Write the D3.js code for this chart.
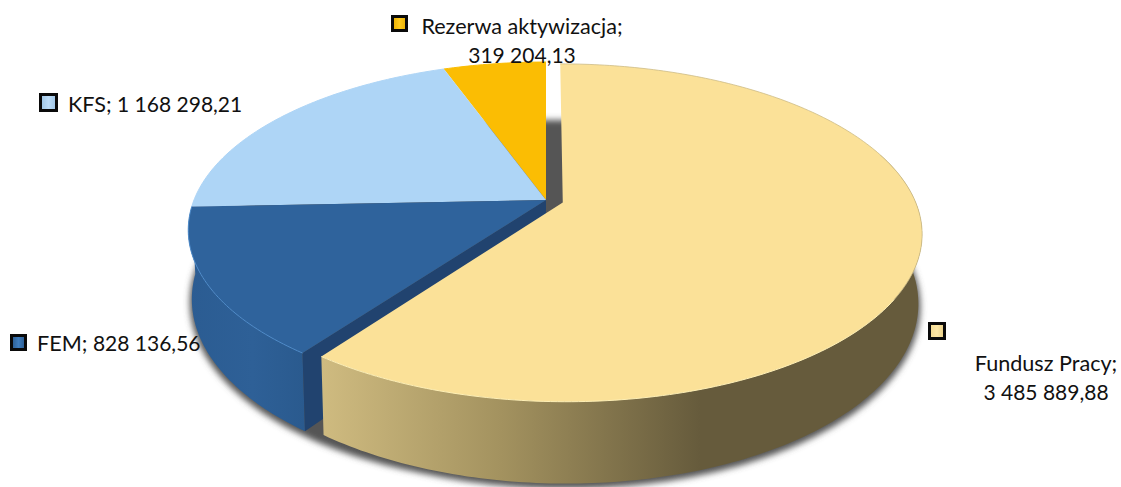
<!DOCTYPE html>
<html>
<head>
<meta charset="utf-8">
<script src="https://cdn.jsdelivr.net/npm/d3@7"></script>
<style>
  html, body { margin: 0; padding: 0; background: #fff; }
  text { font-family: Lato, "Open Sans", sans-serif; fill: #111; -webkit-text-stroke: 0.15px #111; }
  .name { font-size: 21.6px; }
  .value { font-size: 21px; }
</style>
</head>
<body>
<svg id="chart" width="1121" height="487"></svg>
<script>
const categories = ['Fundusz Pracy', 'FEM', 'KFS', 'Rezerwa aktywizacja'];
const values = [3485889.88, 828136.56, 1168298.21, 319204.13];
const exploded = [0.05, 0, 0, 0];
const topColors = ['#fbe198', '#2f639c', '#aed5f6', '#fbbd03'];
const rimColors = ['#fff0b5', '#4f8ccb', '#aed5f6', '#fbbd03'];

const svg = d3.select('#chart');
const defs = svg.append('defs');

// perspective disc: numbers
const cx = 546, cy = 200, R = 352, A = 162.6, K = 0.1786, D = 67;

const fmt = d3.formatLocale({ decimal: ',', thousands: ' ', grouping: [3], currency: ['', ''] }).format(',.2f');

const slices = d3.pie().sort(null).startAngle(0).endAngle(2 * Math.PI)(values);
const wholeDisc = { index: 1, startAngle: 0, endAngle: 2 * Math.PI };

const project = (angle, r, slice, z) => {
  const mid = (slice.startAngle + slice.endAngle) / 2;
  const e = exploded[slice.index];
  const u = r * Math.sin(angle) + e * Math.sin(mid);
  const v = r * Math.cos(angle) + e * Math.cos(mid);
  const s = 1 / (1 + K * v);
  return [cx + R * u * s * (1 - 0.01 * z), cy - A * v * s + D * z * s];
};

const line = d3.line();

const arcPoints = (slice, from, to, z) => {
  const n = Math.max(2, Math.ceil((to - from) * 60));
  return d3.range(n + 1).map(i => project(from + (to - from) * i / n, 1, slice, z));
};

const sector = (slice, z) => line([
  project(0, 0, slice, z),
  ...arcPoints(slice, slice.startAngle, slice.endAngle, z)
]) + 'Z';

// outer wall, only the part that faces the viewer
const wall = slice => {
  const from = Math.max(slice.startAngle, Math.PI * 0.4);
  const to = Math.min(slice.endAngle, Math.PI * 1.55);
  if (to <= from) return null;
  return line([...arcPoints(slice, from, to, 0), ...arcPoints(slice, from, to, 1).reverse()]) + 'Z';
};

const radialWall = (slice, angle) => line([
  project(0, 0, slice, 0), project(angle, 1, slice, 0),
  project(angle, 1, slice, 1), project(0, 0, slice, 1)
]) + 'Z';

// defs
defs.append('filter').attr('id', 'soft')
  .attr('x', '-10%').attr('y', '-10%').attr('width', '120%').attr('height', '120%')
  .append('feGaussianBlur').attr('stdDeviation', 3);

const grad = (id, stops) => {
  const g = defs.append('linearGradient').attr('id', id);
  stops.forEach(s => g.append('stop').attr('offset', s[0]).attr('stop-color', s[1]));
};
grad('wall-0', [[0, '#cfbb80'], [0.3, '#a3925f'], [0.63, '#665b3c'], [1, '#665b3c']]);
grad('wall-1', [[0, '#2b5c92'], [0.55, '#2e6097'], [1, '#2a5a8e']]);
grad('key-0', [[0, '#f2d98f'], [0.5, '#fde7a6'], [1, '#e6cc85']]);
grad('key-1', [[0, '#2a5a8e'], [0.5, '#3f7dbd'], [1, '#2a5a8e']]);
grad('key-2', [[0, '#9cc3e4'], [0.5, '#bcdcf8'], [1, '#9cc3e4']]);
grad('key-3', [[0, '#e8ae00'], [0.5, '#ffca1e'], [1, '#e8ae00']]);

// shadow under the whole pie, also seen through the gap at the top
const shadow = svg.append('g')
  .attr('filter', 'url(#soft)')
  .attr('transform', 'translate(0,3)');

[wholeDisc, slices[0]].forEach(d => {
  shadow.append('path')
    .attr('d', sector(d, 1))
    .attr('fill', '#555').attr('stroke', '#555').attr('stroke-width', 4);
});

const pie = svg.append('g');

// FEM walls first, Fundusz Pracy sits in front of them
pie.append('path').attr('d', wall(slices[1])).attr('fill', 'url(#wall-1)');
pie.append('path').attr('d', radialWall(slices[1], slices[1].startAngle)).attr('fill', '#21436f');

[3, 2, 1].forEach(i => {
  pie.append('path').attr('d', sector(slices[i], 0)).attr('fill', topColors[i]);
  pie.append('path')
    .attr('d', line(arcPoints(slices[i], slices[i].startAngle, slices[i].endAngle, 0)))
    .attr('fill', 'none').attr('stroke', rimColors[i]).attr('stroke-width', 1);
});

pie.append('path').attr('d', wall(slices[0])).attr('fill', 'url(#wall-0)');
pie.append('path').attr('d', sector(slices[0], 0)).attr('fill', topColors[0]);

// rim of the big slice: dark at the back and right, lit at the front
const rimTurn = Math.PI * 0.68;
pie.append('path')
  .attr('d', line(arcPoints(slices[0], slices[0].startAngle, rimTurn, 0)))
  .attr('fill', 'none').attr('stroke', '#cdbb85').attr('stroke-width', 0.8);
pie.append('path')
  .attr('d', line(arcPoints(slices[0], rimTurn, slices[0].endAngle, 0)))
  .attr('fill', 'none').attr('stroke', rimColors[0]).attr('stroke-width', 1);

// data labels
const labelLayout = [
  { key: [928, 322, 18], lines: 2, x: 1046, y: 371, anchor: 'middle' },
  { key: [10, 334, 17], lines: 1, x: 37, y: 351, anchor: 'start' },
  { key: [39, 93, 19], lines: 1, x: 68, y: 112, anchor: 'start' },
  { key: [391, 15, 17], lines: 2, x: 522, y: 34, anchor: 'middle' }
];

const labels = svg.append('g');

labelLayout.forEach((l, i) => {
  labels.append('rect')
    .attr('x', l.key[0] + 1.5).attr('y', l.key[1] + 1.5)
    .attr('width', l.key[2] - 3).attr('height', l.key[2] - 3)
    .attr('fill', `url(#key-${i})`).attr('stroke', '#0a0a0a').attr('stroke-width', 3);

  const text = labels.append('text').attr('x', l.x).attr('y', l.y).attr('text-anchor', l.anchor);
  if (l.lines === 1) {
    text.append('tspan').attr('class', 'name').text(categories[i] + '; ');
    text.append('tspan').attr('class', 'value').text(fmt(values[i]));
  } else {
    text.append('tspan').attr('class', 'name').text(categories[i] + ';');
    text.append('tspan').attr('class', 'value').attr('x', l.x).attr('dy', 29).text(fmt(values[i]));
  }
});
</script>
</body>
</html>
